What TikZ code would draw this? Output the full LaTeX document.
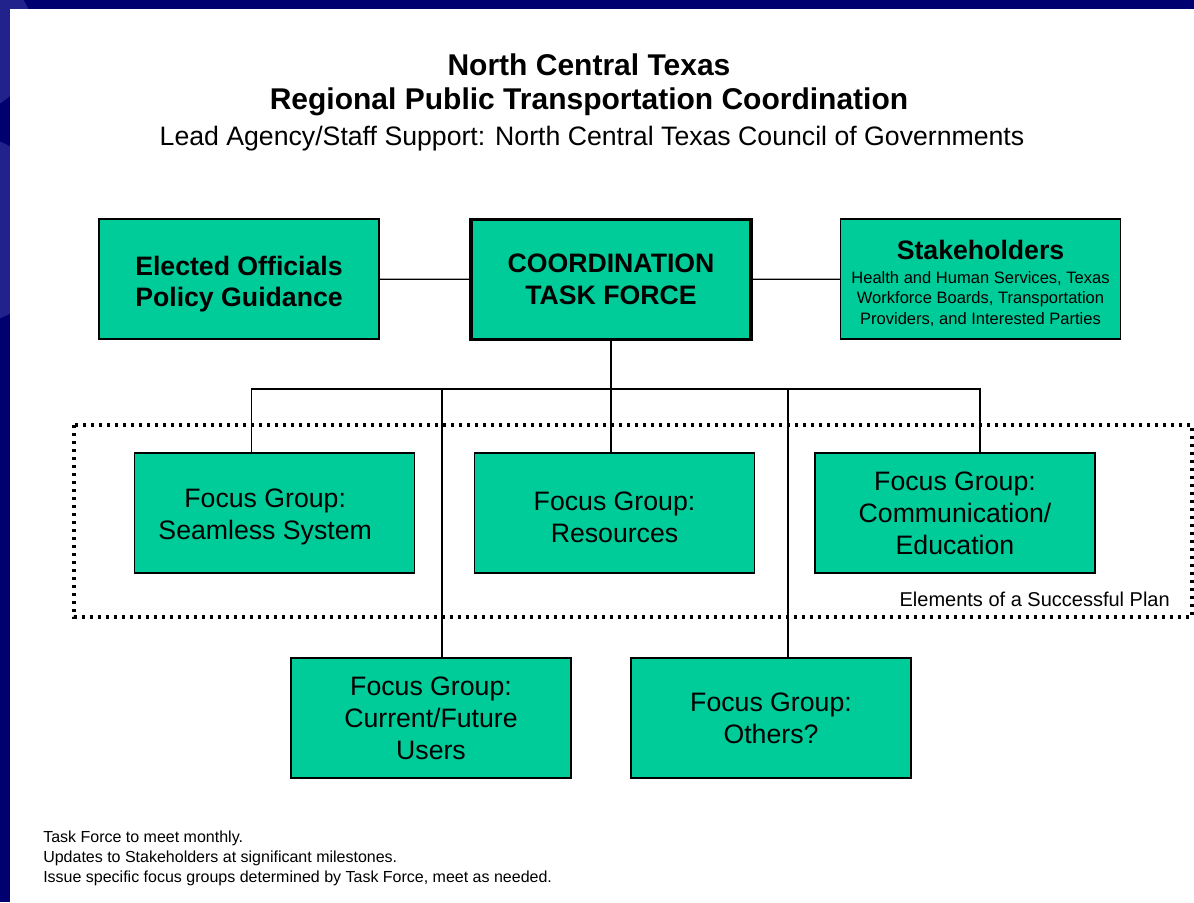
\documentclass[tikz,border=0pt]{standalone}
\usepackage{fontspec}
\setmainfont{Liberation Sans}
\usepackage{xcolor}
\usetikzlibrary{calc}
\definecolor{slidenavy}{RGB}{0,0,112}
\definecolor{slidewash}{RGB}{34,34,140}
\definecolor{focusgreen}{RGB}{0,204,153}

\begin{document}
\begin{tikzpicture}[x=0.75pt,y=-0.75pt,
  box/.style={draw=black,line width=1.1pt,fill=focusgreen,minimum width=210pt,minimum height=90pt,inner sep=0pt,align=center,font=\fontsize{20}{24}\selectfont},
  taskbox/.style={box,line width=2.3pt},
  link/.style={line width=1pt},
  planbox/.style={line width=2.6pt,dash pattern=on 2.6pt off 3.4pt}]
\useasboundingbox (0,0) rectangle (1194,902);
% slide frame
\fill[slidenavy] (0,0) rectangle (1194,902);
\fill[slidewash] (-40,40) circle (75);
\fill[slidewash] (-35,230) circle (95);
\fill[white] (10,9) rectangle (1194,902);
% heading
\node[font=\bfseries\fontsize{22.5}{25.5}\selectfont,align=center] (title) at (589,85) {North Central Texas\\Regional Public Transportation Coordination};
\node[font=\fontsize{20}{24}\selectfont] (lead) at (592,139) {Lead Agency/Staff Support: North Central Texas Council of Governments};
% plan area
\draw[planbox] (74,425) rectangle (1192,617);
\node[anchor=east,inner sep=0pt,font=\fontsize{15}{18}\selectfont] (plannote) at (1170,599) {Elements of a Successful Plan};
% top row
\node[box,font=\bfseries\fontsize{20}{23.5}\selectfont] (elected) at (239,279) {\rule{0pt}{22pt}Elected Officials\\Policy Guidance};
\node[taskbox,font=\bfseries\fontsize{20}{24}\selectfont] (coord) at (611,279.5) {COORDINATION\\TASK FORCE};
\node[box,font=\fontsize{12.4}{15.5}\selectfont] (stake) at (980.5,279) {{\bfseries\fontsize{20}{24}\selectfont\rule{0pt}{21pt}Stakeholders}\\[2.5pt]Health and Human Services, Texas\\Workforce Boards, Transportation\\Providers, and Interested Parties};
% focus groups
\node[box] (seamless) at (274.5,513) {\rule{0pt}{20pt}Focus Group:\hspace{14pt}\mbox{}\\Seamless System\hspace{14pt}\mbox{}};
\node[box] (resources) at (614.5,513) {\rule{0pt}{20pt}Focus Group:\\Resources};
\node[box] (communication) at (955,513) {Focus Group:\\Communication/\\Education};
\node[box] (current) at (431,718) {Focus Group:\\Current/Future\\Users};
\node[box] (others) at (771,718) {Focus Group:\\Others?};
% connectors
\coordinate (bus) at (611,389);
\coordinate (seamlesstop) at ($(seamless.north)+(-23,0)$);
\coordinate (communicationtop) at ($(communication.north)+(25,0)$);
\coordinate (currenttop) at ($(current.north)+(11,0)$);
\coordinate (otherstop) at ($(others.north)+(17,0)$);
\draw[link] (elected) -- (coord);
\draw[link] (coord) -- (stake);
\draw[link] (coord.south) -- (coord.south |- resources.north);
\draw[link] (seamlesstop) |- (bus) -| (communicationtop);
\draw[link] (currenttop) -- (currenttop |- bus);
\draw[link] (otherstop) -- (otherstop |- bus);
% notes
\node[anchor=north west,inner sep=0pt,align=left,font=\fontsize{12}{15}\selectfont] (notes) at (43,831) {Task Force to meet monthly.\\Updates to Stakeholders at significant milestones.\\Issue specific focus groups determined by Task Force, meet as needed.};
\end{tikzpicture}
\end{document}
